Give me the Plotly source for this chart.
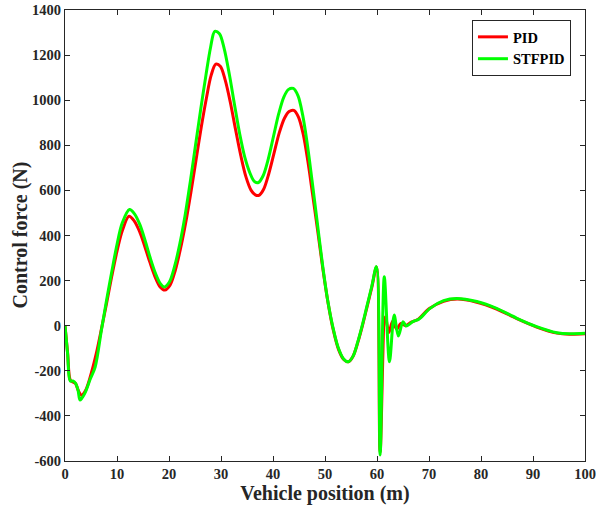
import plotly.graph_objects as go

# Vehicle position (m) and control force (N)
pid_x = [0, 0.5, 1.0, 1.5, 2.0, 2.6, 3.2, 4, 5, 6, 7, 8, 9, 10, 11, 12.3, 13.3, 14.3,
         15.3, 16.3, 17.3, 18.3, 19.2, 20.2, 21.2, 22.2, 23.2, 24.2, 25.2, 26.2, 27.2,
         28.1, 29, 29.9, 30.8, 31.8, 32.8, 33.8, 34.8, 35.8, 36.6, 37.3, 38.2, 39.2,
         40.2, 41.2, 42.2, 43.1, 44, 44.9, 45.8, 46.7, 47.6, 48.6, 49.6, 50.6, 51.6,
         52.6, 53.6, 54.5, 55.4, 56.3, 57.2, 58.1, 59, 59.9, 60.6, 61.6, 62.3, 63.0,
         63.8, 64.6, 65.5, 66.5, 68, 70, 72.8, 75.5, 79, 83, 87, 90.7, 94.6, 97, 100]
pid_y = [0, -120, -240, -250, -255, -290, -308, -285, -215, -125, -15, 100, 220, 330,
         420, 485, 465, 420, 355, 283, 218, 172, 158, 180, 245, 340, 455, 590, 735, 880,
         1010, 1110, 1160, 1150, 1090, 990, 870, 755, 660, 600, 580, 578, 605, 675, 765,
         855, 920, 950, 955, 925, 850, 730, 585, 420, 250, 100, -20, -105, -150, -160,
         -135, -75, 0, 85, 170, 260, -560, 40, -30, 20, -15, 10, 0, 15, 30, 75, 108, 118,
         105, 74, 30, -6, -33, -38, -36]

stf_x = [0, 0.5, 1.0, 1.5, 2.0, 2.5, 2.9, 3.8, 4.8, 5.8, 7, 8, 9, 10, 11, 12.4, 13.4,
         14.4, 15.4, 16.4, 17.4, 18.3, 19.1, 20.1, 21.1, 22.1, 23.1, 24.1, 25.1, 26.1,
         27.1, 28, 28.8, 29.7, 30.6, 31.6, 32.6, 33.6, 34.6, 35.6, 36.4, 37.2, 38.1,
         39.1, 40.1, 41.1, 42.1, 43, 43.9, 44.8, 45.7, 46.6, 47.5, 48.5, 49.5, 50.5,
         51.5, 52.5, 53.5, 54.5, 55.4, 56.3, 57.2, 58.1, 59, 59.9, 60.6, 61.4, 62.4,
         63.3, 64.1, 65.0, 65.6, 66.9, 68.1, 70.2, 72.8, 75.3, 79.2, 83, 86.9, 90.7,
         94.6, 97, 100]
stf_y = [0, -125, -245, -245, -255, -285, -330, -300, -240, -183, -20, 114, 240, 360,
         455, 515, 495, 448, 378, 300, 232, 188, 172, 195, 265, 365, 490, 640, 800, 960,
         1110, 1235, 1305, 1295, 1230, 1115, 980, 850, 745, 675, 640, 635, 665, 740, 840,
         940, 1015, 1048, 1052, 1020, 935, 805, 645, 460, 275, 115, -5, -95, -145, -160,
         -135, -72, 5, 90, 175, 262, -573, 217, -160, 47, -46, 18, -1, 18, 30, 77, 111,
         121, 107, 77, 33, -4, -31, -36, -34]

x_ticks = [0, 10, 20, 30, 40, 50, 60, 70, 80, 90, 100]
y_ticks = [-600, -400, -200, 0, 200, 400, 600, 800, 1000, 1200, 1400]

font_family = "Liberation Serif"
axis_col = "#262626"

fig = go.Figure()
fig.add_trace(go.Scatter(x=pid_x, y=pid_y, name="<b>PID</b>", mode="lines",
                         line=dict(color="#ff0000", width=3, shape="spline", smoothing=0.9)))
fig.add_trace(go.Scatter(x=stf_x, y=stf_y, name="<b>STFPID</b>", mode="lines",
                         line=dict(color="#00ff00", width=3, shape="spline", smoothing=0.9)))

axis_common = dict(showline=True, linecolor=axis_col, linewidth=1, mirror="ticks",
                   ticks="inside", ticklen=5, tickcolor=axis_col, showgrid=False,
                   zeroline=False, automargin=False,
                   tickfont=dict(family=font_family, size=14.5, color=axis_col))

fig.update_layout(
    width=596, height=512,
    margin=dict(l=65, r=11, t=10, b=51),
    paper_bgcolor="white", plot_bgcolor="white",
    font=dict(family=font_family, color=axis_col),
    xaxis=dict(range=[0, 100], tickvals=x_ticks,
               ticktext=[f"<b>{v}</b>" for v in x_ticks],
               title=dict(text="<b>Vehicle position (m)</b>", font=dict(size=20), standoff=2),
               **axis_common),
    yaxis=dict(range=[-600, 1400], tickvals=y_ticks,
               ticktext=[f"<b>{v}</b>" for v in y_ticks],
               **axis_common),
    legend=dict(x=0.973, y=0.978, xanchor="right", yanchor="top",
                bgcolor="white", bordercolor=axis_col, borderwidth=1,
                font=dict(family=font_family, size=14.5, color="black"),
                tracegroupgap=0, itemwidth=30),
    showlegend=True,
    annotations=[dict(text="<b>Control force (N)</b>", xref="paper", yref="paper",
                      x=-0.0865, y=0.5, xanchor="center", yanchor="middle",
                      textangle=-90, showarrow=False,
                      font=dict(family=font_family, size=20, color=axis_col))],
)

# Remove the browser's default 8px body margin so the figure sits at the page origin.
fig.write_html("out.html", config={"displayModeBar": False},
               post_script="document.body.style.margin='0';")
